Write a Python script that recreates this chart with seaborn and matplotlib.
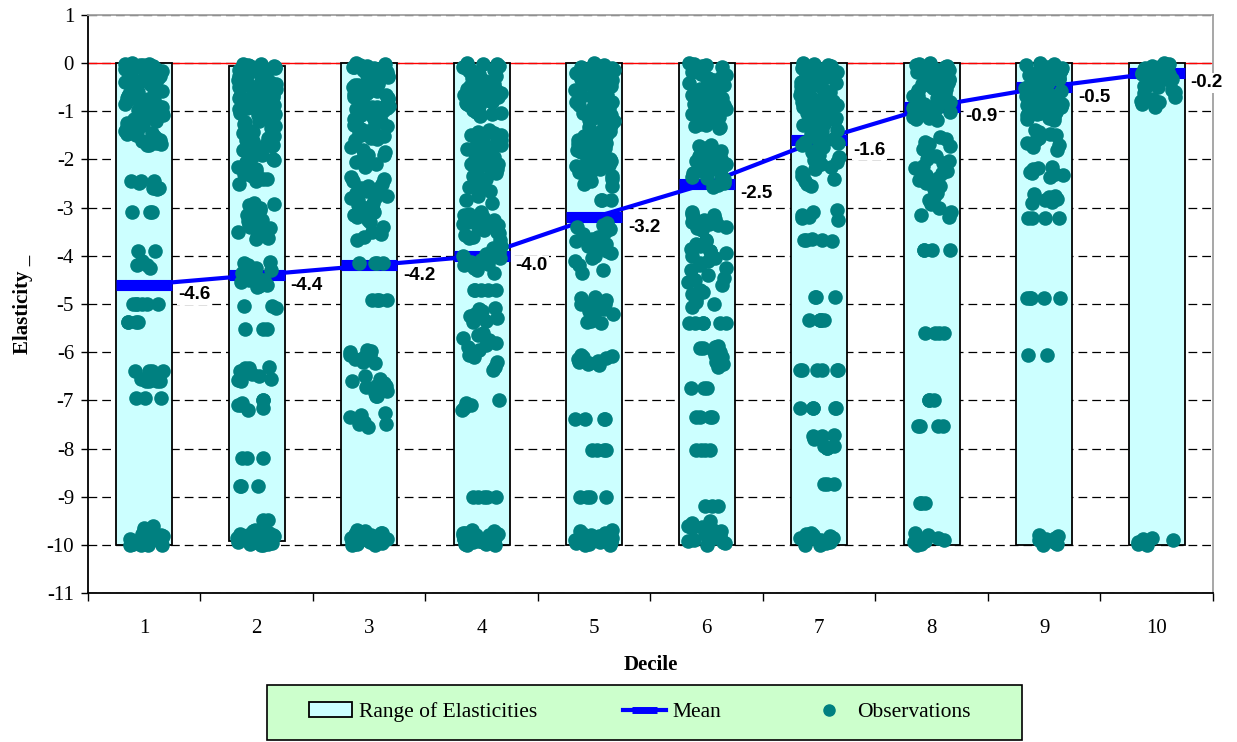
import numpy as np
import pandas as pd
import matplotlib
matplotlib.use("Agg")
import matplotlib.pyplot as plt
from matplotlib.patches import Patch, Rectangle
from matplotlib.lines import Line2D
import seaborn as sns

# ---- data -------------------------------------------------------------
deciles = [1, 2, 3, 4, 5, 6, 7, 8, 9, 10]
mean_elasticity = [-4.6, -4.4, -4.2, -4.0, -3.2, -2.5, -1.6, -0.9, -0.5, -0.2]
range_top = [0.0, -0.05, 0.0, 0.0, 0.0, 0.0, 0.0, 0.0, 0.0, 0.0]
range_bottom = [-10.0, -9.93, -10.0, -10.0, -10.0, -10.0, -10.0, -10.0, -10.0, -10.0]

obs_d1 = [0.0, -0.02, -0.04, -0.05, -0.07, -0.1, -0.12, -0.14, -0.16, -0.2, -0.22, -0.25,
          -0.27, -0.3, -0.33, -0.36, -0.4, -0.42, -0.45, -0.5, -0.53, -0.55, -0.6, -0.62,
          -0.65, -0.68, -0.7, -0.74, -0.78, -0.8, -0.84, -0.88, -0.9, -0.95, -1.0, -1.02,
          -1.08, -1.12, -1.15, -1.2, -1.25, -1.3, -1.38, -1.42, -1.48, -1.5, -1.55, -1.6,
          -1.65, -1.7, -0.01, -0.06, -0.18, -0.35, -0.48, -0.72, -0.85, -1.05, -1.22,
          -1.45, -1.58, -1.68, -0.03, -0.08, -0.13, -0.23, -0.28, -0.38, -0.43, -0.58,
          -0.67, -0.77, -0.92, -0.98, -1.1, -1.18, -1.28, -1.33, -1.4, -1.52, -1.62, -1.7,
          -2.45, -2.45, -2.48, -2.45, -2.6, -2.62, -2.6, -2.6, -3.08, -3.08, -3.08,
          -3.9, -3.9, -4.1, -4.2, -4.2, -4.25,
          -5.0, -5.0, -5.0, -5.0, -5.0, -5.0, -5.37, -5.37, -5.37, -5.37,
          -6.4, -6.4, -6.4, -6.4, -6.45, -6.6, -6.6, -6.6, -6.6, -6.55, -6.95, -6.95, -6.95,
          -9.6, -9.65, -9.7, -9.75, -9.78, -9.8, -9.82, -9.85, -9.85, -9.88, -9.9, -9.9,
          -9.92, -9.95, -9.95, -9.97, -10.0, -10.0, -10.0, -9.8, -9.9, -9.98, -9.75,
          -9.85, -9.92, -10.0]

obs_d2 = [-0.02, -0.05, -0.08, -0.1, -0.12, -0.15, -0.18, -0.2, -0.23, -0.26, -0.3, -0.33,
          -0.36, -0.4, -0.43, -0.46, -0.5, -0.53, -0.56, -0.6, -0.63, -0.66, -0.7, -0.73,
          -0.76, -0.8, -0.83, -0.86, -0.9, -0.93, -0.96, -1.0, -1.03, -1.06, -1.1, -1.14,
          -1.18, -1.22, -1.26, -1.3, -0.04, -0.14, -0.28, -0.45, -0.62, -0.78, -0.95, -1.12,
          -0.06, -0.21, -0.34, -0.52, -0.68, -0.84, -1.01, -1.2, -0.01, -0.38, -0.71, -1.08,
          -1.35, -1.4, -1.45, -1.5, -1.55, -1.6, -1.65, -1.7, -1.75, -1.8, -1.9, -1.95,
          -2.0, -2.05, -2.1, -2.2, -2.25, -2.3, -2.35, -2.4, -2.45, -2.5, -1.42, -1.62,
          -1.85, -2.15, -2.3, -1.52, -1.72, -2.02, -2.4,
          -2.9, -2.92, -2.95, -3.0, -3.05, -3.1, -3.15, -3.2, -3.25, -3.28, -3.3, -3.35,
          -3.4, -3.42, -3.45, -3.5, -3.55, -3.6, -3.62, -3.66, -3.35,
          -4.13, -4.15, -4.2, -4.25, -4.3, -4.35, -4.4, -4.45, -4.5, -4.55, -4.6, -4.62,
          -4.65, -4.4, -4.5,
          -5.05, -5.08, -5.05, -5.52, -5.52, -5.52,
          -6.3, -6.33, -6.33, -6.4, -6.45, -6.5, -6.55, -6.58, -6.6,
          -7.0, -7.0, -7.05, -7.1, -7.1, -7.15, -7.2,
          -8.2, -8.2, -8.2, -8.78, -8.78, -8.78, -9.48, -9.48,
          -9.7, -9.72, -9.75, -9.78, -9.8, -9.8, -9.82, -9.85, -9.85, -9.87, -9.88, -9.9,
          -9.9, -9.9, -9.92, -9.93, -9.95, -9.95, -9.97, -9.98, -10.0, -10.0, -9.75,
          -9.85, -9.95, -9.8, -9.9, -9.98]

obs_d3 = [0.0, -0.03, -0.05, -0.08, -0.1, -0.13, -0.15, -0.18, -0.2, -0.23, -0.26, -0.3,
          -0.33, -0.36, -0.4, -0.43, -0.46, -0.5, -0.53, -0.56, -0.6, -0.63, -0.66, -0.7,
          -0.73, -0.76, -0.8, -0.83, -0.86, -0.9, -0.93, -0.96, -1.0, -1.04, -1.08, -1.12,
          -1.16, -1.2, -1.24, -1.28, -1.32, -1.36, -1.4, -1.45, -1.5, -1.55, -1.6, -0.12,
          -0.38, -0.65, -0.92, -1.18, -0.02, -0.07, -0.17, -0.28, -0.45, -0.58, -0.75,
          -0.88, -1.02, -1.14, -1.3, -1.43, -1.52, -1.58,
          -1.75, -1.8, -1.85, -1.9, -1.95, -2.0, -2.05, -2.1, -2.15, -1.9,
          -2.36, -2.4, -2.45, -2.5, -2.55, -2.6, -2.65, -2.7, -2.75, -2.8, -2.85, -2.9,
          -2.95, -3.0, -3.05, -3.1, -3.15, -3.2, -3.25, -3.3, -3.4, -3.5, -3.55, -3.6,
          -3.67, -2.6, -2.8, -3.0,
          -4.15, -4.15, -4.15, -4.15, -4.92, -4.92, -4.92, -4.92,
          -5.95, -5.98, -6.0, -6.05, -6.1, -6.1, -6.15, -6.2, -6.22, -6.05,
          -6.5, -6.55, -6.6, -6.65, -6.7, -6.72, -6.75, -6.8, -6.85, -6.9, -6.92, -6.7,
          -7.27, -7.3, -7.35, -7.4, -7.45, -7.5, -7.55, -7.5,
          -9.7, -9.72, -9.75, -9.78, -9.8, -9.8, -9.82, -9.85, -9.85, -9.87, -9.88, -9.9,
          -9.9, -9.9, -9.92, -9.93, -9.95, -9.95, -9.97, -9.98, -10.0, -10.0, -9.75,
          -9.85, -9.95, -9.8, -9.9, -9.98]

obs_d4 = [0.0, -0.02, -0.05, -0.07, -0.1, -0.12, -0.15, -0.18, -0.2, -0.23, -0.26, -0.29,
          -0.32, -0.35, -0.38, -0.41, -0.44, -0.47, -0.5, -0.53, -0.56, -0.59, -0.62, -0.65,
          -0.68, -0.71, -0.74, -0.77, -0.8, -0.83, -0.86, -0.89, -0.92, -0.95, -0.98, -1.01,
          -1.04, -1.07, -1.1, -0.3, -0.6, -0.9, -0.01, -0.08, -0.16, -0.24, -0.37, -0.46,
          -0.55, -0.66, -0.75, -0.84, -0.97, -1.05,
          -1.39, -1.42, -1.46, -1.5, -1.54, -1.58, -1.62, -1.66, -1.7, -1.74, -1.78, -1.82,
          -1.86, -1.9, -1.95, -2.0, -2.05, -2.1, -2.15, -2.2, -2.25, -2.3, -2.35, -2.4,
          -2.43, -1.6, -1.8, -2.1, -1.5, -1.95, -2.28,
          -2.57, -2.6, -2.65, -2.75, -2.85, -2.9,
          -3.1, -3.13, -3.16, -3.2, -3.23, -3.26, -3.3, -3.33, -3.36, -3.4, -3.43, -3.46,
          -3.5, -3.53, -3.56, -3.6, -3.63, -3.67, -3.3, -3.5,
          -3.8, -3.84, -3.88, -3.92, -3.96, -4.0, -4.04, -4.08, -4.12, -4.16, -4.2, -4.25,
          -4.3, -4.36, -4.0,
          -4.7, -4.7, -4.7, -4.7, -4.7,
          -5.08, -5.1, -5.15, -5.2, -5.25, -5.3, -5.35, -5.37,
          -5.6, -5.65, -5.7, -5.75, -5.8, -5.85, -5.9, -5.95, -6.0, -6.05, -6.1, -6.2,
          -6.3, -6.37,
          -7.0, -7.05, -7.1, -7.15, -7.2,
          -9.0, -9.0, -9.0, -9.0, -9.0,
          -9.7, -9.72, -9.75, -9.78, -9.8, -9.8, -9.82, -9.85, -9.85, -9.87, -9.88, -9.9,
          -9.9, -9.9, -9.92, -9.93, -9.95, -9.95, -9.97, -9.98, -10.0, -10.0, -9.75,
          -9.85, -9.95, -9.8, -9.9, -9.98]

obs_d5 = [0.0, -0.03, -0.06, -0.09, -0.12, -0.15, -0.18, -0.21, -0.24, -0.27, -0.3, -0.33,
          -0.36, -0.39, -0.42, -0.45, -0.48, -0.51, -0.54, -0.57, -0.6, -0.63, -0.66, -0.69,
          -0.72, -0.75, -0.78, -0.81, -0.84, -0.87, -0.9, -0.93, -0.96, -0.99, -1.02, -1.05,
          -1.08, -1.11, -1.14, -1.17, -1.2, -1.23, -1.26, -1.29, -1.32, -1.35, -1.38, -1.41,
          -1.44, -1.47, -1.5, -1.53, -1.56, -1.59, -1.62, -1.65, -1.68, -1.71, -1.74, -1.77,
          -1.8, -1.84, -1.88, -1.92, -1.96, -2.0, -2.04, -2.08, -2.12, -2.16, -2.2, -2.25,
          -2.3, -2.35, -2.4, -2.45, -2.5, -2.55, -0.02, -0.1, -0.2, -0.32, -0.44, -0.56,
          -0.68, -0.8, -0.92, -1.04, -1.16, -1.28, -1.4, -1.52, -1.64, -1.76, -1.9, -2.02,
          -2.14, -2.28, -2.42,
          -2.84, -2.84, -2.84,
          -3.32, -3.36, -3.4, -3.45, -3.5, -3.55, -3.6, -3.65, -3.7, -3.75, -3.8, -3.85,
          -3.9, -3.95, -4.0, -4.05, -4.1, -4.2, -4.3, -4.36,
          -4.85, -4.88, -4.92, -4.95, -5.0, -5.05, -5.1, -5.15, -5.2, -5.25, -5.3, -5.35,
          -5.38, -5.4, -5.0,
          -6.05, -6.08, -6.1, -6.12, -6.15, -6.18, -6.2, -6.22, -6.25, -6.27,
          -7.39, -7.39, -7.39, -7.39, -8.04, -8.04, -8.04, -8.04, -9.0, -9.0, -9.0, -9.0,
          -9.7, -9.72, -9.75, -9.78, -9.8, -9.82, -9.85, -9.87, -9.88, -9.9, -9.9, -9.92,
          -9.93, -9.95, -9.95, -9.97, -9.98, -10.0, -10.0, -9.85, -9.8, -9.9]

obs_d6 = [0.0, -0.03, -0.06, -0.09, -0.12, -0.15, -0.18, -0.21, -0.24, -0.27, -0.3, -0.33,
          -0.36, -0.39, -0.42, -0.45, -0.48, -0.51, -0.54, -0.57, -0.6, -0.63, -0.66, -0.69,
          -0.72, -0.75, -0.78, -0.81, -0.84, -0.87, -0.9, -0.93, -0.96, -0.99, -1.02, -1.05,
          -1.08, -1.11, -1.14, -1.17, -1.2, -1.23, -1.26, -1.29, -1.32, -1.35, -0.02, -0.11,
          -0.23, -0.35, -0.47, -0.59, -0.71, -0.83, -0.95, -1.07, -1.19, -1.31,
          -1.7, -1.73, -1.76, -1.8, -1.83, -1.86, -1.9, -1.93, -1.96, -2.0, -2.03, -2.06,
          -2.1, -2.13, -2.16, -2.2, -2.24, -2.28, -2.32, -2.36, -2.4, -2.44, -2.48, -2.52,
          -2.57, -1.78, -1.98, -2.18, -2.38,
          -3.1, -3.13, -3.16, -3.2, -3.23, -3.26, -3.3, -3.33, -3.36, -3.4, -3.43, -3.46,
          -3.67, -3.7, -3.75, -3.8, -3.85, -3.9, -3.95, -4.0, -4.05, -4.1, -4.15, -4.2,
          -4.25, -4.3, -3.9,
          -4.4, -4.45, -4.5, -4.55, -4.6, -4.7, -4.75, -4.8, -4.9, -4.95, -5.0, -5.06,
          -5.4, -5.4, -5.4, -5.4, -5.4, -5.4,
          -5.88, -5.9, -5.92, -5.95, -6.0, -6.05, -6.1, -6.15, -6.2, -6.25, -6.3, -5.92,
          -6.75, -6.75, -6.75, -7.34, -7.34, -7.34, -7.34, -8.03, -8.03, -8.03, -8.03,
          -9.2, -9.2, -9.2,
          -9.5, -9.55, -9.6, -9.62, -9.65, -9.7, -9.72, -9.75, -9.78, -9.8, -9.82, -9.85,
          -9.88, -9.9, -9.92, -9.95, -9.97, -10.0, -9.7, -9.85]

obs_d7 = [0.0, -0.03, -0.06, -0.09, -0.12, -0.15, -0.18, -0.21, -0.24, -0.27, -0.3, -0.33,
          -0.36, -0.39, -0.42, -0.45, -0.48, -0.51, -0.54, -0.57, -0.6, -0.63, -0.66, -0.69,
          -0.72, -0.75, -0.78, -0.81, -0.84, -0.87, -0.9, -0.93, -0.96, -0.99, -1.02, -1.05,
          -1.08, -1.11, -1.14, -1.17, -1.2, -1.23, -1.26, -1.29, -1.32, -1.35, -1.38, -1.41,
          -1.44, -1.47, -1.5, -1.54, -1.58, -1.62, -1.66, -1.7, -1.75, -1.8, -1.85, -1.9,
          -1.95, -2.0, -2.05, -2.1, -2.2, -2.25, -2.3, -2.4, -2.45, -2.55, -0.02, -0.1,
          -0.2, -0.32, -0.44, -0.56, -0.68, -0.8, -0.92, -1.04, -1.16, -1.28, -1.4, -1.52,
          -1.64, -1.76, -1.9, -2.02, -2.15, -2.35, -2.5,
          -3.05, -3.1, -3.15, -3.2, -3.22, -3.26,
          -3.65, -3.67, -3.67, -3.7, -3.68,
          -4.85, -4.85, -4.85, -5.33, -5.33, -5.33, -5.33, -5.33,
          -6.37, -6.37, -6.37, -6.37, -6.37, -6.37,
          -7.16, -7.16, -7.16, -7.16, -7.16,
          -7.72, -7.75, -7.75, -7.8, -7.95, -7.98, -7.98, -7.95,
          -8.73, -8.73, -8.73,
          -9.75, -9.78, -9.8, -9.82, -9.85, -9.87, -9.9, -9.9, -9.92, -9.95, -9.95, -9.97,
          -10.0, -10.0, -9.85]

obs_d8 = [0.0, -0.03, -0.06, -0.09, -0.12, -0.15, -0.18, -0.21, -0.24, -0.27, -0.3, -0.33,
          -0.36, -0.39, -0.42, -0.45, -0.48, -0.51, -0.54, -0.57, -0.6, -0.63, -0.66, -0.69,
          -0.72, -0.75, -0.78, -0.81, -0.84, -0.87, -0.9, -0.93, -0.96, -0.99, -1.02, -1.05,
          -1.08, -1.11, -1.14, -1.17, -0.02, -0.1, -0.2, -0.32, -0.44, -0.56, -0.68, -0.8,
          -0.92, -1.04, -1.16,
          -1.53, -1.58, -1.63, -1.68, -1.73, -1.78, -1.83, -1.88, -1.93, -1.98, -2.03, -2.08,
          -2.13, -2.18, -2.23, -2.28, -2.33, -2.38, -2.43, -2.48, -2.55, -2.62, -2.7, -2.78,
          -2.85, -2.92, -3.0, -3.08, -3.15, -3.19,
          -3.88, -3.88, -3.88, -3.88, -5.6, -5.6, -5.6, -5.6, -7.0, -7.0, -7.0,
          -7.54, -7.54, -7.54, -7.54, -9.13, -9.13, -9.13,
          -9.75, -9.8, -9.85, -9.9, -9.92, -9.95, -9.98, -10.0]

obs_d9 = [0.0, -0.03, -0.06, -0.09, -0.12, -0.15, -0.18, -0.21, -0.24, -0.27, -0.3, -0.33,
          -0.36, -0.39, -0.42, -0.45, -0.48, -0.51, -0.54, -0.57, -0.6, -0.63, -0.66, -0.69,
          -0.72, -0.75, -0.78, -0.81, -0.84, -0.87, -0.9, -0.93, -0.96, -0.99, -1.02, -1.05,
          -1.08, -1.11, -1.14, -1.17, -0.02, -0.1, -0.2, -0.32, -0.44, -0.56, -0.68, -0.8,
          -0.92, -1.04, -1.16,
          -1.39, -1.43, -1.47, -1.5, -1.55, -1.6, -1.65, -1.7, -1.75, -1.8,
          -2.15, -2.18, -2.2, -2.25, -2.28, -2.3, -2.33, -2.36,
          -2.71, -2.75, -2.78, -2.82, -2.85, -2.88, -2.9,
          -3.22, -3.22, -3.22, -3.22, -4.87, -4.87, -4.87, -4.87, -4.87, -6.06, -6.06,
          -9.8, -9.82, -9.85, -9.88, -9.9, -9.95, -9.98, -10.0]

obs_d10 = [0.0, -0.02, -0.05, -0.08, -0.1, -0.13, -0.16, -0.2, -0.23, -0.26, -0.3, -0.33,
           -0.36, -0.4, -0.45, -0.5, -0.55, -0.6, -0.7, -0.75, -0.8, -0.85, -0.9, -0.03,
           -0.12, -0.22, -0.34, -0.48, -0.62, -0.78,
           -9.85, -9.88, -9.9, -9.95, -9.98, -10.0]

observations = [obs_d1, obs_d2, obs_d3, obs_d4, obs_d5,
                obs_d6, obs_d7, obs_d8, obs_d9, obs_d10]

# ---- styling ------------------------------------------------------------
BAR_FILL = "#CCFFFF"
MEAN_BLUE = "#0000FF"
OBS_TEAL = "#008080"
LEGEND_FILL = "#CCFFCC"
SERIF = "Liberation Serif"
SANS = "Liberation Sans"

obs_df = pd.DataFrame({
    "Decile": np.concatenate([[d] * len(v) for d, v in zip(deciles, observations)]),
    "Elasticity": np.concatenate(observations),
})

np.random.seed(11)
fig, ax = plt.subplots(figsize=(12.37, 7.42), dpi=100)
fig.subplots_adjust(left=0.0711, right=0.9806, top=0.9798, bottom=0.2008)

# floating range bars
heights = np.array(range_top) - np.array(range_bottom)
ax.bar(deciles, heights, bottom=range_bottom, width=0.5, color=BAR_FILL,
       edgecolor="black", linewidth=1.3, zorder=2)

# dashed grid plus red zero line
ax.set_axisbelow(True)
ax.set_yticks(range(-11, 2))
ax.yaxis.grid(True, linestyle=(0, (7, 4)), color="black", linewidth=0.9)
ax.axhline(0, color="#FF0000", linewidth=1.0, zorder=1.5)

# mean line with wide flat markers
sns.lineplot(x=deciles, y=mean_elasticity, ax=ax, color=MEAN_BLUE, linewidth=3,
             marker="_", markersize=41, markeredgewidth=8, markeredgecolor=MEAN_BLUE,
             zorder=3, legend=False)

# individual observations
sns.stripplot(data=obs_df, x="Decile", y="Elasticity", native_scale=True, jitter=0.175,
              color=OBS_TEAL, size=10.5, linewidth=0, ax=ax, zorder=4)

# mean value labels
for d, m in zip(deciles, mean_elasticity):
    ax.text(d + 0.3, m - 0.21, f"{m:.1f}", ha="left", va="center", fontsize=13.5,
            fontweight="bold", family=SANS, zorder=6, clip_on=False,
            bbox=dict(facecolor="white", edgecolor="none", pad=1.0))

# axes
ax.set_xlim(0.5, 10.5)
ax.set_ylim(-11, 1)
ax.set_xticks(np.arange(0.5, 11, 1.0))
ax.set_xticklabels([])
ax.set_xticks(deciles, minor=True)
ax.set_xticklabels([str(d) for d in deciles], minor=True, family=SERIF, fontsize=15)
ax.tick_params(axis="x", which="major", length=6, width=1, direction="out")
ax.tick_params(axis="x", which="minor", length=0, pad=19)
ax.set_yticks(range(-11, 2))
ax.set_yticklabels([str(v) for v in range(-11, 2)], family=SERIF, fontsize=15)
ax.tick_params(axis="y", length=5, width=1, direction="out", pad=5)

ax.set_xlabel("Decile", family=SERIF, fontsize=15, fontweight="bold", labelpad=12)
ax.set_ylabel("Elasticity _", family=SERIF, fontsize=15, fontweight="bold", labelpad=10)

for side in ("left", "bottom"):
    ax.spines[side].set_color("black")
    ax.spines[side].set_linewidth(1.3)
for side in ("top", "right"):
    ax.spines[side].set_color("#A0A0A0")
    ax.spines[side].set_linewidth(1.3)

# legend: green box with three entries
fig.add_artist(Rectangle((267 / 1237, 2 / 742), 755 / 1237, 55 / 742,
                         transform=fig.transFigure, facecolor=LEGEND_FILL,
                         edgecolor="black", linewidth=1.2, zorder=0))
handles = [
    Patch(facecolor=BAR_FILL, edgecolor="black", linewidth=1.3),
    Line2D([], [], color=MEAN_BLUE, linewidth=3, marker="_", markersize=18,
           markeredgewidth=5),
    Line2D([], [], linestyle="none", marker="o", color=OBS_TEAL, markersize=8),
]
labels = ["Range of Elasticities", "Mean", "Observations"]
leg = fig.legend(handles, labels, loc="center left", ncol=3,
                 bbox_to_anchor=(309 / 1237, 30 / 742), frameon=False,
                 prop={"family": SERIF, "size": 15.5}, borderpad=0, borderaxespad=0,
                 handlelength=2.0, handletextpad=0.3, columnspacing=4.0)

fig.savefig("out.png", dpi=100)
